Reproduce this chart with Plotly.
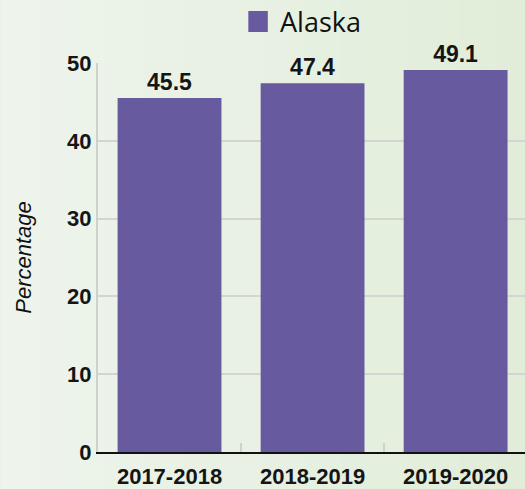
import plotly.graph_objects as go

categories = ["2017-2018", "2018-2019", "2019-2020"]
values = [45.5, 47.4, 49.1]
series_name = "Alaska"
y_ticks = [0, 10, 20, 30, 40, 50]

BAR = "#685a9e"
W, H = 525, 489
ML, MR, MT, MB = 97.5, 0, 63, 37
PW, PH = W - ML - MR, H - MT - MB
FONT = "Liberation Sans, Arial"

def px_x(x):
    return (x - ML) / PW

def px_y(y):
    return (H - MB - y) / PH

fig = go.Figure()
fig.add_trace(go.Bar(
    x=categories, y=values, name=series_name,
    marker=dict(color=BAR, line=dict(width=0)),
    width=0.726,
    text=[f"<b>{v:.1f}</b>" for v in values],
    textposition="outside",
    textfont=dict(family=FONT, size=23, color="#151515"),
    cliponaxis=False,
    showlegend=False,
))

shapes = []
n = 40
c0 = (238, 244, 236)
c1 = (225, 237, 217)
for i in range(n):
    t = i / (n - 1)
    c = tuple(round(c0[k] + (c1[k] - c0[k]) * t) for k in range(3))
    x0 = i * W / n
    x1 = (i + 1) * W / n + 1
    shapes.append(dict(type="rect", xref="paper", yref="paper",
                       x0=px_x(x0), x1=px_x(x1), y0=px_y(H), y1=px_y(0),
                       fillcolor=f"rgb{c}", line=dict(width=0), layer="below"))
shapes.append(dict(type="rect", xref="paper", yref="paper",
                   x0=px_x(248), x1=px_x(267.5), y0=px_y(32), y1=px_y(11),
                   fillcolor=BAR, line=dict(width=0), layer="above"))

fig.update_layout(
    width=W, height=H,
    margin=dict(l=ML, r=MR, t=MT, b=MB, pad=0, autoexpand=False),
    paper_bgcolor="#e8f0e2",
    plot_bgcolor="rgba(0,0,0,0)",
    shapes=shapes,
    showlegend=False,
    annotations=[dict(
        text=series_name, xref="paper", yref="paper",
        x=px_x(278), y=px_y(22), xanchor="left", yanchor="middle",
        showarrow=False, font=dict(family="Open Sans", size=27, color="#111111"),
    )],
    xaxis=dict(
        type="category", range=[-0.5, 2.485], automargin=False,
        showline=True, linecolor="#111111", linewidth=2,
        showgrid=False, zeroline=False,
        ticks="inside", tickson="boundaries", ticklen=9, tickwidth=2, tickcolor="#cfd2cc",
        tickfont=dict(family=FONT, size=22, color="#151515", weight="bold"),
        ticklabelstandoff=4,
    ),
    yaxis=dict(
        range=[0, 50], tickvals=y_ticks, automargin=False,
        showline=True, linecolor="#cfd2cc", linewidth=2,
        showgrid=True, gridcolor="#d3d6d0", gridwidth=2,
        zeroline=False, ticks="",
        tickfont=dict(family=FONT, size=22, color="#151515", weight="bold"),
        title=dict(text="<i>Percentage</i>", standoff=29,
                   font=dict(family=FONT, size=22, color="#111111")),
    ),
    font=dict(family=FONT),
)

fig.write_html("out.html", config={"displayModeBar": False},
               post_script="document.body.style.margin='0';document.body.style.overflow='hidden';")
